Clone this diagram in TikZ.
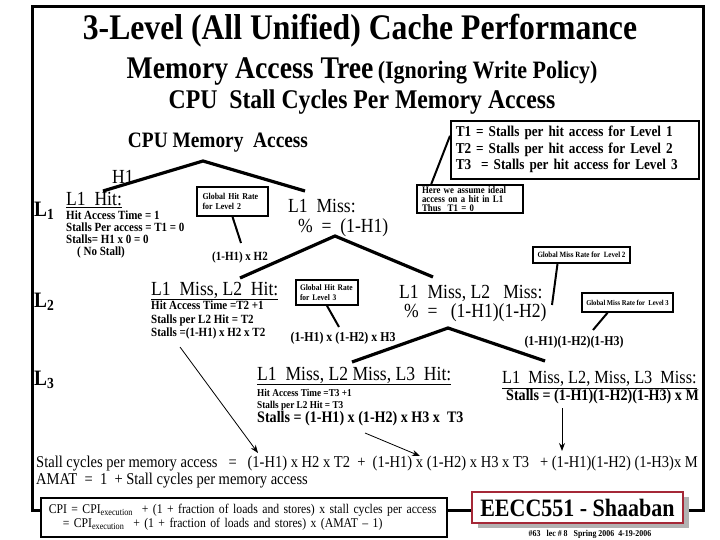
\documentclass[tikz,border=0pt]{standalone}
\usepackage{fontspec}
\setmainfont{Liberation Serif}[FakeStretch=0.88]
\usetikzlibrary{arrows.meta,shadows}

\definecolor{eeccred}{RGB}{165,40,55}
\newcommand{\pxfont}[2]{\fontsize{#1}{#2}\selectfont}

\begin{document}
\begin{tikzpicture}[
    x=1pt, y=-1pt,
    frame/.style={line width=3pt},
    branch/.style={line width=3.2pt},
    leader/.style={line width=2pt},
    pointer/.style={-{Stealth[length=8pt,width=6pt]}, line width=0.8pt},
    notebox/.style={
        draw,
        line width=1.6pt,
        fill=white,
        align=left,
        inner ysep=1pt
    },
    level/.style={anchor=west, inner sep=0pt, font=\pxfont{22}{22}\bfseries},
    header/.style={anchor=west, inner sep=0pt, font=\pxfont{20}{20}},
    detail/.style={anchor=west, inner sep=0pt, align=left}
]
\useasboundingbox (0,0) rectangle (720,540);

\draw[frame] (32,7) rectangle (703,510);

% titles
\node (title) at (360,31) {\pxfont{36}{36}\bfseries 3-Level (All Unified) Cache Performance};
\node (subtitle) at (362,72) {\bfseries{\pxfont{31.5}{31.5}Memory Access Tree}\ \ {\pxfont{25}{25}(Ignoring Write Policy)}};
\node (stalltitle) at (362,102) {\pxfont{27}{27}\bfseries CPU\ \ Stall Cycles Per Memory Access};

% legend of hit times
\node[notebox, anchor=north west, text width=238pt, inner xsep=5pt, minimum height=58pt,
      font=\pxfont{15}{16.5}\bfseries] (tbox) at (450,120)
    {T1 = Stalls per hit access for Level 1\\T2 = Stalls per hit access for Level 2\\T3\ \ = Stalls per hit access for Level 3};
\node[notebox, text width=96pt, inner xsep=5pt, minimum height=28pt,
      font=\pxfont{10}{8.7}\bfseries] (ideal) at (470,199)
    {Here we assume ideal\\access on a hit in L1\\Thus\ \ T1 = 0};
\draw[leader] ([xshift=15pt]ideal.north west) -- ([yshift=14pt]tbox.west);

% level 1
\node (cpu) at (218,143) {\pxfont{22}{22}\bfseries CPU Memory\ \ Access};
\coordinate (topA) at (203,161);
\coordinate (hitA) at (103,191);
\coordinate (missA) at (305,191);
\draw[branch] (hitA) -- (topA) -- (missA);
\node (hone) at (123,177) {\pxfont{20}{20}H1};

\node[level] (levA) at (34,211) {L\textsubscript{1}};
\node[header] (hitAhead) at (66,200) {\underline{L1\ \ Hit:}};
\node[detail, font=\pxfont{12.5}{12}\bfseries] (hitAdet) at (66,234)
    {Hit Access Time = 1\\Stalls Per access = T1 = 0\\Stalls= H1 x 0 = 0\\\hspace*{11pt}( No Stall)};
\node[header] (missAhead) at (288,206.5) {L1\ \ Miss:};
\node[header] (missApct) at (298,228) {\%\ \ =\ \ (1-H1)};

\node[notebox, text width=60pt, inner xsep=5.5pt, minimum height=29pt,
      font=\pxfont{9}{10}\bfseries] (ghrA) at (232.5,201.5) {Global Hit Rate\\for Level 2};
\coordinate (ghrAend) at (241,243);
\draw[leader] (ghrA.south) -- (ghrAend);
\node (probB) at (240,257) {\pxfont{12.5}{12.5}\bfseries (1-H1) x H2};

% level 2
\coordinate (topB) at (335,236);
\coordinate (hitB) at (240,278);
\coordinate (missB) at (433,277);
\draw[branch] (hitB) -- (topB) -- (missB);

\node[notebox, minimum width=97pt, minimum height=16pt,
      font=\pxfont{8}{8}\bfseries] (gmrB) at (581.5,255) {Global Miss Rate for\ \ Level 2};
\coordinate (gmrBend) at (552,305);
\draw[leader] ([xshift=-24pt]gmrB.south) -- (gmrBend);

\node[level] (levB) at (34,302) {L\textsubscript{2}};
\node[header] (hitBhead) at (151,291) {\underline{L1\ \ Miss, L2\ \ Hit:}};
\node[detail, font=\pxfont{12.5}{13.5}\bfseries] (hitBdet) at (151,320)
    {Hit Access Time =T2 +1\\Stalls per L2 Hit = T2\\Stalls =(1-H1) x H2 x T2};
\node[header] (missBhead) at (399,293) {L1\ \ Miss, L2\ \ \ Miss:};
\node[header] (missBpct) at (404,313) {\%\ \ =\ \ \ (1-H1)(1-H2)};

\node[notebox, text width=54pt, inner xsep=4pt, minimum height=25pt,
      font=\pxfont{8.5}{9.5}\bfseries] (ghrB) at (327,292.5) {Global Hit Rate\\for Level 3};
\coordinate (ghrBend) at (339,327);
\draw[leader] (ghrB.south) -- (ghrBend);
\node (probC) at (343,338) {\pxfont{13.5}{13.5}\bfseries (1-H1) x (1-H2) x H3};

\node[notebox, minimum width=91pt, minimum height=19pt,
      font=\pxfont{7.5}{7.5}\bfseries] (gmrC) at (627.5,302.5) {Global Miss Rate for\ \ Level 3};
\coordinate (gmrCend) at (593,330);
\draw[leader] ([xshift=-20pt]gmrC.south) -- (gmrCend);
\node (missprodC) at (574,342) {\pxfont{13.5}{13.5}\bfseries (1-H1)(1-H2)(1-H3)};

% level 3
\coordinate (topC) at (448,328);
\coordinate (hitC) at (352,362);
\coordinate (missC) at (545,361);
\draw[branch] (hitC) -- (topC) -- (missC);

\node[level] (levC) at (34,380) {L\textsubscript{3}};
\node[header] (hitChead) at (257,376) {\underline{L1\ \ Miss, L2 Miss, L3\ \ Hit:}};
\node[detail, font=\pxfont{10.5}{12}\bfseries] (hitCdet) at (257,400)
    {Hit Access Time =T3 +1\\Stalls per L2 Hit = T3};
\node[detail, font=\pxfont{16}{16}\bfseries] (hitCstall) at (257,419)
    {Stalls = (1-H1) x (1-H2) x H3 x\ \ T3};
\node[header, font=\pxfont{18.5}{18.5}] (missChead) at (502,380) {\underline{L1\ \ Miss, L2, Miss, L3\ \ Miss:}};
\node[detail, font=\pxfont{16}{16}\bfseries] (missCstall) at (506,397)
    {Stalls = (1-H1)(1-H2)(1-H3) x M};

% sum of the stall terms
\coordinate (fromB) at (180,347);
\coordinate (toB) at (258,453);
\coordinate (fromC) at (365,433);
\coordinate (toC) at (420,456);
\coordinate (fromM) at (562,408);
\coordinate (toM) at (562,451);
\draw[pointer] (fromB) -- (toB);
\draw[pointer] (fromC) -- (toC);
\draw[pointer] (fromM) -- (toM);

\node[detail, font=\pxfont{16.5}{16.5}] (stalleq) at (36,464)
    {Stall cycles per memory access\ \ \ =\ \ \ (1-H1) x H2 x T2\ \ +\ \ (1-H1) x (1-H2) x H3 x T3\ \ \ + (1-H1)(1-H2) (1-H3)x M};
\node[detail, font=\pxfont{16.5}{16.5}] (amat) at (36,481)
    {AMAT\ \ =\ \ 1\ \ + Stall cycles per memory access};

\node[notebox, anchor=north west, text width=390pt, inner xsep=8pt, minimum height=39pt,
      font=\pxfont{13.3}{14.5}] (cpi) at (40,497)
    {CPI = CPI\textsubscript{execution}\ \ + (1 + fraction of loads and stores) x stall cycles per access\\
     \hspace*{14pt}= CPI\textsubscript{execution}\ \ + (1 + fraction of loads and stores) x (AMAT -- 1)};

\node[draw=eeccred, line width=2pt, fill=white, minimum width=211pt, minimum height=31pt,
      drop shadow={shadow xshift=6pt, shadow yshift=-5pt, fill=gray!60, opacity=1},
      font=\pxfont{25}{25}\bfseries] (course) at (577.5,507.5) {EECC551 - Shaaban};
\node[font=\pxfont{9}{9}\bfseries] (lecdate) at (590,534) {\#63\ \ \ lec \# 8\ \ \ Spring 2006\ \ 4-19-2006};

\end{tikzpicture}
\end{document}
